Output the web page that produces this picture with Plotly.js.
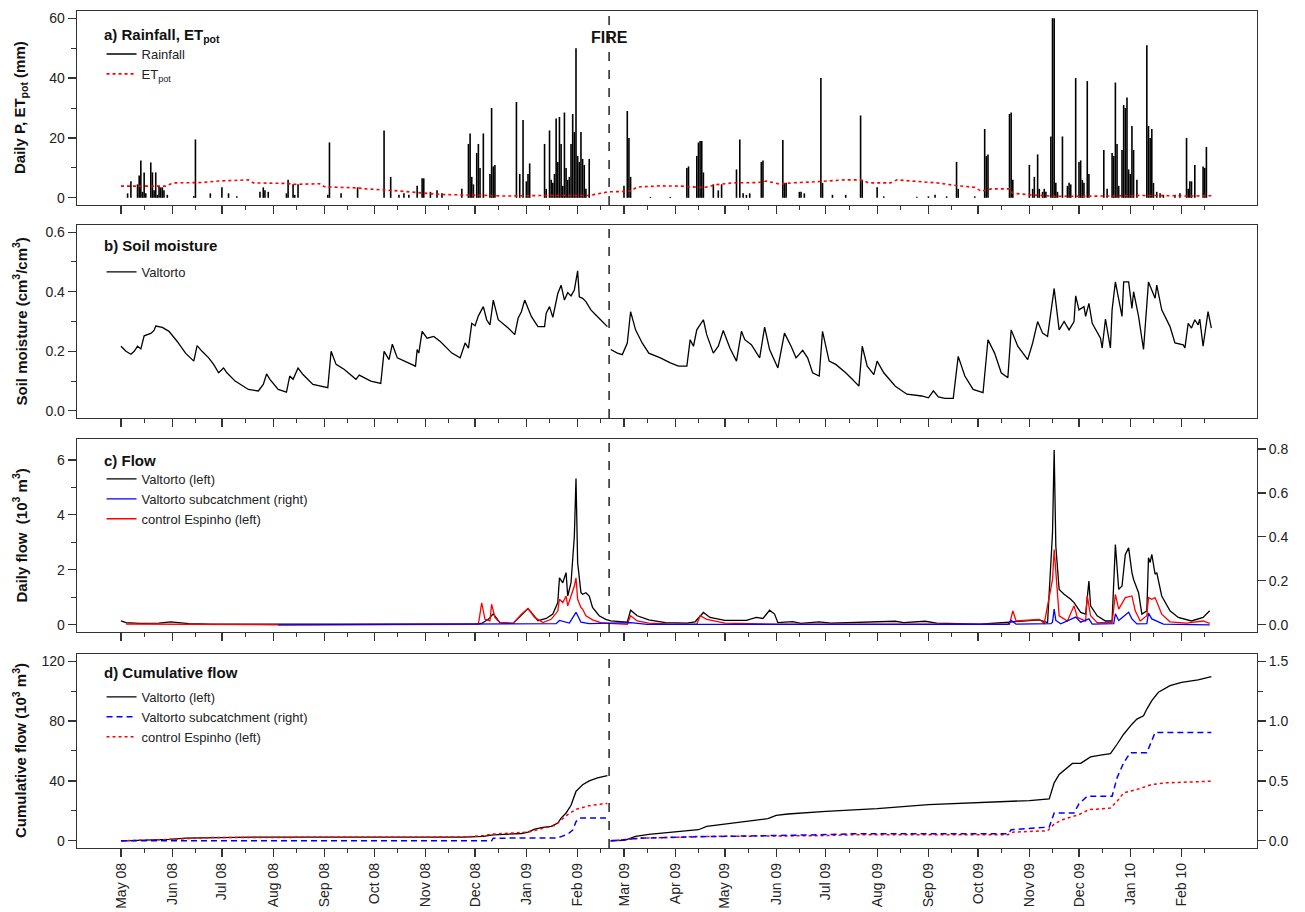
<!DOCTYPE html>
<html><head><meta charset="utf-8">
<script src="https://cdn.plot.ly/plotly-3.0.1.min.js"></script>
<style>html,body{margin:0;padding:0;background:#fff}#chart{width:1305px;height:912px}</style>
</head><body><div id="chart"></div>
<script>
const FIRE_DATE = '2009-02-20';

// x-axis ticks: month starts (labelled) and mid-month (minor)
const monthTicks = ['2008-05-01','2008-06-01','2008-07-01','2008-08-01','2008-09-01','2008-10-01','2008-11-01','2008-12-01','2009-01-01','2009-02-01','2009-03-01','2009-04-01','2009-05-01','2009-06-01','2009-07-01','2009-08-01','2009-09-01','2009-10-01','2009-11-01','2009-12-01','2010-01-01','2010-02-01'];
const midMonthTicks = ['2008-05-15','2008-06-15','2008-07-15','2008-08-15','2008-09-15','2008-10-15','2008-11-15','2008-12-15','2009-01-15','2009-02-15','2009-03-15','2009-04-15','2009-05-15','2009-06-15','2009-07-15','2009-08-15','2009-09-15','2009-10-15','2009-11-15','2009-12-15','2010-01-15','2010-02-15'];

// a) daily rainfall (mm)
const rainfall = [
['2008-05-05',1.5],['2008-05-07',5.5],['2008-05-11',4.5],['2008-05-12',7.5],['2008-05-13',12.5],['2008-05-14',2],['2008-05-15',8.5],['2008-05-16',1.5],['2008-05-19',11.8],['2008-05-20',8.5],['2008-05-21',2.5],['2008-05-22',8.5],['2008-05-23',1],['2008-05-24',4],['2008-05-25',3.5],['2008-05-26',3.5],['2008-05-27',2.5],['2008-05-29',1],
['2008-06-14',0.6],['2008-06-15',19.5],['2008-06-24',1.5],['2008-07-01',3.5],['2008-07-05',1.5],['2008-07-10',0.5],['2008-07-24',2],['2008-07-26',3.5],['2008-07-27',2.5],['2008-07-29',2],
['2008-08-09',1.5],['2008-08-10',6],['2008-08-13',4.5],['2008-08-14',1],['2008-08-16',4.5],['2008-09-03',1],['2008-09-04',18.5],['2008-09-11',1.5],['2008-09-21',3.5],
['2008-10-07',22.5],['2008-10-11',7],['2008-10-16',1],['2008-10-19',1.5],['2008-10-22',1],['2008-10-27',4],['2008-10-30',6.5],['2008-10-31',6.5],['2008-11-04',2],['2008-11-08',2.5],['2008-11-11',1.5],['2008-11-23',3],
['2008-11-27',18],['2008-11-28',21.5],['2008-11-29',7],['2008-11-30',4.5],['2008-12-02',15],['2008-12-03',18],['2008-12-04',10],['2008-12-06',21.5],['2008-12-10',8],['2008-12-11',30],['2008-12-12',10.5],['2008-12-13',11],
['2008-12-26',32],['2008-12-28',8],['2008-12-30',26],['2009-01-01',5.5],['2009-01-02',8],['2009-01-03',11.5],
['2009-01-12',18],['2009-01-13',3],['2009-01-15',22.5],['2009-01-16',6],['2009-01-17',5],['2009-01-18',8],['2009-01-19',26.5],['2009-01-20',12],['2009-01-21',27],['2009-01-22',18],['2009-01-23',4],['2009-01-24',28.5],['2009-01-25',10],['2009-01-26',6],['2009-01-27',7],['2009-01-28',18],['2009-01-29',28],['2009-01-30',22],['2009-01-31',50],['2009-02-01',14],['2009-02-02',12],['2009-02-03',22],['2009-02-04',13],['2009-02-05',11],['2009-02-06',3],['2009-02-08',13],
['2009-03-01',4],['2009-03-03',29],['2009-03-04',20],['2009-03-05',7],['2009-03-17',0.3],['2009-03-29',0.3],
['2009-04-08',10],['2009-04-09',10.5],['2009-04-14',14],['2009-04-15',18.5],['2009-04-16',19],['2009-04-17',19],['2009-04-18',8.5],['2009-04-24',4.5],['2009-04-27',2.5],['2009-04-29',4.5],
['2009-05-08',9.5],['2009-05-10',19.5],['2009-05-12',1.5],['2009-05-14',1],['2009-05-16',1.5],['2009-05-23',12],['2009-05-24',12.5],
['2009-06-05',19.3],['2009-06-06',5],['2009-06-07',5],['2009-06-15',2],['2009-06-16',2],['2009-06-18',1.5],['2009-06-28',40],['2009-06-29',5],
['2009-07-05',1],['2009-07-13',1],['2009-07-22',27.5],['2009-07-23',6],['2009-08-01',3.5],['2009-08-05',0.5],['2009-08-25',0.4],['2009-09-01',0.5],['2009-09-05',1],['2009-09-12',0.5],['2009-09-18',12],['2009-09-19',3],['2009-09-29',0.5],
['2009-10-05',23],['2009-10-06',14],['2009-10-07',14.5],['2009-10-20',28],['2009-10-21',28.5],['2009-10-22',6],
['2009-11-01',11],['2009-11-03',3],['2009-11-04',7],['2009-11-06',14.5],['2009-11-07',3],['2009-11-09',2],['2009-11-10',3],['2009-11-11',2],['2009-11-14',20.5],['2009-11-15',60],['2009-11-16',60],['2009-11-17',5],['2009-11-18',2],['2009-11-21',20.5],['2009-11-24',4],['2009-11-25',5],['2009-11-26',4.5],['2009-11-29',40],
['2009-12-01',12],['2009-12-02',12.5],['2009-12-03',6],['2009-12-04',5],['2009-12-06',39],['2009-12-07',8],['2009-12-16',16],['2009-12-18',3],['2009-12-21',15],['2009-12-22',14],['2009-12-23',38.5],['2009-12-24',18],['2009-12-25',4],['2009-12-27',16],['2009-12-28',31],['2009-12-29',30],['2009-12-30',33.5],['2009-12-31',9.5],
['2010-01-01',8],['2010-01-02',24],['2010-01-03',16],['2010-01-05',6],['2010-01-11',51],['2010-01-12',24],['2010-01-13',20],['2010-01-14',23],['2010-01-15',5],['2010-01-17',2],['2010-01-19',1.5],['2010-01-21',1],['2010-01-28',1],['2010-01-31',1.5],
['2010-02-04',20],['2010-02-05',3],['2010-02-06',5.5],['2010-02-07',5.5],['2010-02-09',11],['2010-02-14',10.5],['2010-02-15',10],['2010-02-16',17]
];

// a) potential evapotranspiration (mm/day)
const etpot = [
['2008-05-01',3.9],['2008-05-28',3.9],['2008-05-31',4.6],['2008-06-03',5],['2008-06-19',5.1],['2008-06-29',5.6],['2008-07-17',6],['2008-07-20',5],['2008-08-09',4.8],['2008-08-14',4.5],['2008-08-29',4.7],['2008-09-01',3.7],['2008-09-21',3.3],['2008-09-26',3],['2008-10-11',2.5],['2008-10-29',1.8],['2008-11-11',1.1],['2008-12-01',0.9],['2008-12-19',0.6],['2009-01-14',0.8],['2009-02-08',0.8],['2009-02-16',1.6],['2009-02-19',2],['2009-02-28',2.1],['2009-03-05',2.3],['2009-03-09',3.6],['2009-03-23',4],
['2009-04-05',3.9],['2009-04-18',3.4],['2009-04-26',4.4],['2009-05-06',5],['2009-05-21',5.1],['2009-05-26',5.6],['2009-06-03',4.6],['2009-06-11',5],['2009-06-26',5.4],['2009-07-12',6],['2009-07-22',6],['2009-07-27',5],['2009-08-09',5],['2009-08-13',6],['2009-08-22',5.6],['2009-09-06',5],['2009-09-19',4],['2009-09-29',3.5],['2009-10-03',2.2],['2009-10-09',3],['2009-10-20',3],['2009-10-22',1.5],['2009-11-02',1],['2009-11-17',0.5],['2009-12-17',0.6],['2010-01-12',0.8],['2010-02-07',0.6],['2010-02-19',0.7]
];

// b) soil moisture (cm3/cm3), before and after the fire
const soilPre = [
['2008-05-01',0.217],['2008-05-04',0.2],['2008-05-07',0.19],['2008-05-09',0.2],['2008-05-11',0.217],['2008-05-13',0.208],['2008-05-15',0.252],['2008-05-17',0.256],['2008-05-19',0.26],['2008-05-21',0.27],['2008-05-22',0.285],['2008-05-26',0.28],['2008-05-30',0.267],['2008-06-04',0.233],['2008-06-09',0.194],['2008-06-14',0.167],['2008-06-16',0.219],['2008-06-19',0.2],['2008-06-23',0.178],['2008-06-26',0.156],['2008-06-29',0.128],
['2008-07-02',0.144],['2008-07-04',0.128],['2008-07-09',0.1],['2008-07-17',0.072],['2008-07-23',0.067],['2008-07-26',0.089],['2008-07-28',0.124],['2008-07-30',0.106],['2008-08-04',0.072],['2008-08-09',0.063],['2008-08-11',0.117],['2008-08-13',0.106],['2008-08-16',0.144],['2008-08-19',0.122],['2008-08-25',0.089],
['2008-09-03',0.078],['2008-09-05',0.2],['2008-09-08',0.156],['2008-09-13',0.139],['2008-09-20',0.106],['2008-09-22',0.12],['2008-09-29',0.1],['2008-10-05',0.092],['2008-10-07',0.2],['2008-10-10',0.172],['2008-10-12',0.224],['2008-10-15',0.178],['2008-10-22',0.161],['2008-10-26',0.15],['2008-10-27',0.206],['2008-10-28',0.194],['2008-10-30',0.267],
['2008-11-02',0.244],['2008-11-06',0.25],['2008-11-10',0.233],['2008-11-17',0.194],['2008-11-22',0.178],['2008-11-25',0.228],['2008-11-27',0.211],['2008-11-29',0.294],['2008-12-01',0.286],['2008-12-03',0.319],['2008-12-06',0.35],['2008-12-08',0.306],['2008-12-10',0.289],['2008-12-12',0.372],['2008-12-15',0.306],['2008-12-21',0.278],['2008-12-25',0.256],['2008-12-27',0.311],['2008-12-29',0.333],['2008-12-31',0.372],
['2009-01-04',0.317],['2009-01-08',0.283],['2009-01-12',0.283],['2009-01-13',0.328],['2009-01-15',0.35],['2009-01-17',0.314],['2009-01-19',0.361],['2009-01-20',0.394],['2009-01-22',0.422],['2009-01-24',0.372],['2009-01-26',0.397],['2009-01-28',0.386],['2009-01-30',0.406],['2009-02-01',0.47],['2009-02-02',0.383],['2009-02-04',0.378],['2009-02-06',0.367],['2009-02-09',0.339],['2009-02-12',0.322],['2009-02-19',0.283]
];
const soilPost = [
['2009-02-21',0.206],['2009-02-25',0.194],['2009-02-28',0.189],['2009-03-03',0.228],['2009-03-05',0.333],['2009-03-08',0.272],['2009-03-12',0.228],['2009-03-16',0.194],['2009-03-23',0.178],['2009-03-29',0.161],['2009-04-03',0.15],['2009-04-08',0.15],['2009-04-10',0.239],['2009-04-12',0.217],['2009-04-14',0.272],['2009-04-18',0.306],['2009-04-20',0.256],['2009-04-24',0.194],['2009-04-27',0.217],['2009-04-30',0.27],
['2009-05-04',0.211],['2009-05-08',0.167],['2009-05-11',0.267],['2009-05-13',0.239],['2009-05-17',0.222],['2009-05-22',0.178],['2009-05-25',0.281],['2009-05-28',0.206],['2009-06-02',0.144],['2009-06-06',0.261],['2009-06-10',0.217],['2009-06-13',0.178],['2009-06-17',0.203],['2009-06-20',0.178],['2009-06-23',0.128],['2009-06-27',0.117],['2009-06-29',0.267],
['2009-07-03',0.167],['2009-07-07',0.156],['2009-07-13',0.128],['2009-07-17',0.106],['2009-07-21',0.083],['2009-07-23',0.217],['2009-07-26',0.15],['2009-07-30',0.122],['2009-08-01',0.167],['2009-08-05',0.128],['2009-08-12',0.083],['2009-08-19',0.056],['2009-08-28',0.05],['2009-09-01',0.044],['2009-09-04',0.067],['2009-09-07',0.047],['2009-09-11',0.042],['2009-09-16',0.042],['2009-09-19',0.183],['2009-09-23',0.117],['2009-09-28',0.072],
['2009-10-04',0.061],['2009-10-07',0.239],['2009-10-11',0.194],['2009-10-15',0.128],['2009-10-19',0.111],['2009-10-21',0.272],['2009-10-25',0.217],['2009-10-31',0.172],['2009-11-03',0.228],['2009-11-06',0.3],['2009-11-09',0.261],['2009-11-12',0.25],['2009-11-16',0.411],['2009-11-19',0.272],['2009-11-22',0.3],['2009-11-25',0.272],['2009-11-28',0.3],['2009-11-29',0.386],
['2009-12-01',0.339],['2009-12-04',0.35],['2009-12-05',0.317],['2009-12-07',0.361],['2009-12-09',0.294],['2009-12-14',0.244],['2009-12-15',0.211],['2009-12-17',0.308],['2009-12-20',0.211],['2009-12-21',0.339],['2009-12-23',0.433],['2009-12-27',0.317],['2009-12-28',0.433],['2009-12-31',0.433],
['2010-01-02',0.344],['2010-01-03',0.4],['2010-01-06',0.317],['2010-01-09',0.206],['2010-01-12',0.433],['2010-01-16',0.378],['2010-01-17',0.422],['2010-01-20',0.339],['2010-01-25',0.283],['2010-01-28',0.228],['2010-02-02',0.222],['2010-02-03',0.211],['2010-02-05',0.294],['2010-02-07',0.278],['2010-02-09',0.306],['2010-02-11',0.289],['2010-02-12',0.308],['2010-02-14',0.217],['2010-02-17',0.333],['2010-02-19',0.278]
];

// c) daily flow (10^3 m3)
const flowValtorto = [
['2008-05-01',0.14],['2008-05-04',0.08],['2008-05-12',0.05],['2008-05-24',0.06],['2008-05-31',0.11],['2008-06-04',0.08],['2008-06-11',0.04],['2008-06-24',0.025],['2008-08-09',0.02],['2008-12-02',0.03],['2008-12-05',0.05],['2008-12-09',0.2],['2008-12-12',0.4],['2008-12-16',0.08],['2008-12-24',0.05],['2008-12-29',0.33],
['2009-01-02',0.59],['2009-01-04',0.45],['2009-01-08',0.15],['2009-01-13',0.23],['2009-01-17',0.39],['2009-01-20',0.81],['2009-01-21',1.71],['2009-01-23',1.53],['2009-01-25',1.9],['2009-01-26',1.05],['2009-01-28',1.53],['2009-01-30',3.22],['2009-01-31',5.32],['2009-02-01',2.26],['2009-02-03',1.17],['2009-02-04',1.11],['2009-02-06',1.17],['2009-02-08',1.05],['2009-02-10',0.63],['2009-02-14',0.33],['2009-02-18',0.2],
['2009-02-21',0.14],['2009-02-28',0.1],['2009-03-03',0.1],['2009-03-05',0.53],['2009-03-09',0.33],['2009-03-16',0.18],['2009-03-23',0.12],['2009-03-26',0.08],['2009-04-08',0.06],['2009-04-13',0.11],['2009-04-18',0.45],['2009-04-22',0.27],['2009-05-01',0.16],['2009-05-14',0.16],['2009-05-20',0.27],['2009-05-24',0.23],['2009-05-28',0.53],['2009-05-31',0.39],['2009-06-02',0.08],['2009-06-11',0.12],['2009-06-16',0.05],['2009-06-27',0.11],['2009-07-04',0.06],['2009-08-12',0.13],['2009-08-17',0.08],['2009-08-30',0.13],['2009-09-06',0.06],['2009-09-21',0.05],['2009-10-02',0.02],['2009-10-20',0.1],
['2009-11-07',0.18],['2009-11-12',0.08],['2009-11-15',3.35],['2009-11-16',6.36],['2009-11-17',2.86],['2009-11-19',1.29],['2009-11-22',1.11],['2009-11-26',0.93],['2009-11-28',0.81],['2009-12-02',0.45],['2009-12-05',0.39],['2009-12-07',1.59],['2009-12-08',0.69],['2009-12-12',0.33],['2009-12-17',0.14],['2009-12-21',0.14],['2009-12-23',2.92],['2009-12-25',1.29],['2009-12-27',1.41],['2009-12-29',2.56],['2009-12-31',2.8],
['2010-01-02',1.9],['2010-01-03',1.65],['2010-01-06',1.17],['2010-01-08',0.39],['2010-01-11',0.51],['2010-01-12',2.44],['2010-01-13',2.27],['2010-01-14',2.56],['2010-01-16',1.84],['2010-01-17',1.9],['2010-01-20',1.05],['2010-01-25',0.51],['2010-01-30',0.27],['2010-02-07',0.14],['2010-02-14',0.27],['2010-02-18',0.51]
];
const flowSubcatchment = [
['2008-08-04',0],['2008-12-03',0.005],['2009-01-19',0.005],['2009-01-21',0.02],['2009-01-24',0.015],['2009-01-27',0.008],['2009-01-31',0.057],['2009-02-03',0.012],['2009-02-08',0.005],['2009-03-05',0.01],['2009-03-15',0.002],['2009-10-19',0.002],['2009-10-21',0.02],['2009-10-24',0.003],['2009-11-14',0.005],['2009-11-15',0.012],['2009-11-16',0.072],['2009-11-17',0.02],['2009-11-20',0.005],['2009-11-29',0.035],['2009-12-02',0.012],['2009-12-07',0.027],['2009-12-09',0.003],['2009-12-22',0.005],['2009-12-23',0.05],['2009-12-25',0.02],['2009-12-31',0.057],['2010-01-02',0.027],['2010-01-05',0.004],['2010-01-11',0.005],['2010-01-12',0.053],['2010-01-14',0.027],['2010-01-16',0.02],['2010-01-21',0.003],['2010-02-18',0]
];
const flowEspinho = [
['2008-05-04',0.03],['2008-06-15',0.02],['2008-08-04',0],['2008-12-03',0.02],['2008-12-05',0.8],['2008-12-07',0.2],['2008-12-10',0.14],['2008-12-11',0.75],['2008-12-13',0.27],['2008-12-16',0.08],['2008-12-24',0.05],['2008-12-29',0.39],['2009-01-02',0.6],['2009-01-06',0.27],['2009-01-11',0.08],['2009-01-16',0.2],['2009-01-20',0.5],['2009-01-21',0.93],['2009-01-23',0.81],['2009-01-25',1.05],['2009-01-26',0.69],['2009-01-28',1.05],['2009-01-30',1.41],['2009-01-31',1.71],['2009-02-01',0.93],['2009-02-03',0.63],['2009-02-04',0.57],['2009-02-06',0.33],['2009-02-10',0.18],['2009-02-15',0.08],['2009-02-20',0.05],
['2009-03-03',0.02],['2009-03-05',0.33],['2009-03-09',0.14],['2009-03-16',0.06],['2009-03-30',0.02],['2009-04-14',0.02],['2009-04-16',0.33],['2009-04-20',0.2],['2009-05-01',0.06],['2009-06-01',0.02],['2009-10-20',0.02],['2009-10-22',0.51],['2009-10-24',0.14],['2009-11-07',0.2],['2009-11-10',0.05],['2009-11-15',1.65],['2009-11-16',2.74],['2009-11-17',1.9],['2009-11-19',0.33],['2009-11-24',0.14],['2009-11-28',0.69],['2009-11-30',0.27],['2009-12-05',0.14],['2009-12-06',1.05],['2009-12-08',0.33],['2009-12-12',0.08],['2009-12-21',0.08],['2009-12-23',1.11],['2009-12-25',0.57],['2009-12-29',0.99],
['2010-01-02',1.05],['2010-01-04',0.51],['2010-01-07',0.14],['2010-01-11',0.33],['2010-01-12',0.99],['2010-01-14',0.93],['2010-01-16',0.99],['2010-01-20',0.39],['2010-01-25',0.11],['2010-02-04',0.06],['2010-02-14',0.14],['2010-02-18',0.05]
];

// d) cumulative flow (10^3 m3), restarted at the fire
const cumValtortoPre = [['2008-05-01',0],['2008-05-12',0.2],['2008-05-24',0.45],['2008-05-30',0.9],['2008-06-09',1.8],['2008-06-24',2.2],['2008-07-20',2.5],['2008-11-24',2.5],['2008-12-06',2.9],['2008-12-12',4.0],['2008-12-19',4.5],['2008-12-29',4.9],['2009-01-02',5.8],['2009-01-06',7.8],['2009-01-11',9.0],['2009-01-16',9.6],['2009-01-20',11.9],['2009-01-22',15.2],['2009-01-25',18.6],['2009-01-28',23.7],['2009-01-31',33],['2009-02-04',37.5],['2009-02-08',40],['2009-02-13',42],['2009-02-19',43.5]];
const cumValtortoPost = [['2009-02-21',0],['2009-03-01',0.3],['2009-03-03',1.0],['2009-03-08',3.0],['2009-03-16',4.3],['2009-03-23',5.0],['2009-04-01',5.8],['2009-04-15',7.4],['2009-04-20',9.6],['2009-05-01',11.2],['2009-05-19',13.4],['2009-05-27',14.8],['2009-06-01',17],['2009-06-08',17.9],['2009-07-01',19.7],['2009-08-01',21.5],['2009-09-01',24.2],['2009-10-01',25.3],['2009-11-01',26.9],['2009-11-13',28],['2009-11-16',38.7],['2009-11-19',44.3],['2009-11-23',47.7],['2009-11-27',51.7],['2009-12-02',51.7],['2009-12-05',53.7],['2009-12-08',56],['2009-12-14',57.3],['2009-12-20',58.2],['2009-12-24',64.5],['2009-12-28',71.2],['2010-01-02',77.9],['2010-01-05',81.3],['2010-01-09',83.5],['2010-01-11',88],['2010-01-14',93.6],['2010-01-18',99.2],['2010-01-25',103.6],['2010-02-01',105.9],['2010-02-11',107.5],['2010-02-19',109.7]];
const cumSubPre = [['2008-05-01',0],['2008-12-11',0],['2008-12-12',0.022],['2009-01-20',0.024],['2009-01-22',0.035],['2009-01-26',0.055],['2009-01-29',0.09],['2009-01-31',0.16],['2009-02-02',0.19],['2009-02-19',0.19]];
const cumSubPost = [['2009-02-21',0],['2009-03-05',0.012],['2009-03-11',0.022],['2009-04-15',0.034],['2009-04-26',0.036],['2009-06-27',0.05],['2009-07-17',0.059],['2009-10-19',0.059],['2009-10-21',0.092],['2009-11-13',0.115],['2009-11-16',0.232],['2009-11-28',0.232],['2009-12-01',0.31],['2009-12-06',0.372],['2009-12-21',0.372],['2009-12-24',0.526],['2009-12-28',0.652],['2010-01-01',0.736],['2010-01-11',0.736],['2010-01-16',0.904],['2010-02-19',0.904]];
const cumEspinhoPre = [['2008-05-01',0],['2008-05-30',0.9],['2008-06-24',2.2],['2008-11-24',2.5],['2008-12-06',3.5],['2008-12-12',4.5],['2009-01-02',5.8],['2009-01-11',8.5],['2009-01-19',10.5],['2009-01-21',13],['2009-01-26',17.5],['2009-01-31',21],['2009-02-08',23.5],['2009-02-19',25]];
const cumEspinhoPost = [['2009-02-21',0],['2009-03-05',1.0],['2009-03-11',1.8],['2009-04-05',2.5],['2009-04-15',2.9],['2009-06-27',3.4],['2009-07-17',4.0],['2009-10-19',4.0],['2009-10-22',5.8],['2009-11-12',6.7],['2009-11-16',11.2],['2009-11-21',14.1],['2009-12-01',17.5],['2009-12-07',20.8],['2009-12-20',21.9],['2009-12-24',26.4],['2009-12-28',32],['2010-01-05',34.3],['2010-01-14',37.6],['2010-01-22',38.7],['2010-02-19',39.8]];

// ---------- helpers ----------
const xs = a => a.map(p => p[0]);
const ys = a => a.map(p => p[1]);
const withBreak = (pre, post) => ({x: [...xs(pre), FIRE_DATE, ...xs(post)], y: [...ys(pre), null, ...ys(post)]});
const spikes = a => ({x: a.flatMap(p => [p[0], p[0], null]), y: a.flatMap(p => [0, p[1], null])});

const FONT = 'Liberation Sans, Arial, sans-serif';
const AX = '#333';
const rain = spikes(rainfall);
const soil = withBreak(soilPre, soilPost);
const cV = withBreak(cumValtortoPre, cumValtortoPost);
const cS = withBreak(cumSubPre, cumSubPost);
const cE = withBreak(cumEspinhoPre, cumEspinhoPost);

const traces = [
  {x: rain.x, y: rain.y, type: 'scatter', mode: 'lines', name: 'Rainfall', line: {color: '#000', width: 1.6}, xaxis: 'x', yaxis: 'y', legend: 'legend', connectgaps: false},
  {x: xs(etpot), y: ys(etpot), type: 'scatter', mode: 'lines', name: 'ET<sub>pot</sub>', line: {color: '#ff0000', width: 1.6, dash: 'dot'}, xaxis: 'x', yaxis: 'y', legend: 'legend'},
  {x: soil.x, y: soil.y, type: 'scatter', mode: 'lines', name: 'Valtorto', line: {color: '#000', width: 1.3}, xaxis: 'x2', yaxis: 'y2', legend: 'legend2', connectgaps: false},
  {x: xs(flowValtorto), y: ys(flowValtorto), type: 'scatter', mode: 'lines', name: 'Valtorto (left)', line: {color: '#000', width: 1.3}, xaxis: 'x3', yaxis: 'y3', legend: 'legend3', legendrank: 1},
  {x: xs(flowEspinho), y: ys(flowEspinho), type: 'scatter', mode: 'lines', name: 'control Espinho (left)', line: {color: '#ff0000', width: 1.3}, xaxis: 'x3', yaxis: 'y3', legend: 'legend3', legendrank: 3},
  {x: xs(flowSubcatchment), y: ys(flowSubcatchment), type: 'scatter', mode: 'lines', name: 'Valtorto subcatchment (right)', line: {color: '#0000ff', width: 1.3}, xaxis: 'x3', yaxis: 'y4', legend: 'legend3', legendrank: 2},
  {x: cV.x, y: cV.y, type: 'scatter', mode: 'lines', name: 'Valtorto (left)', line: {color: '#000', width: 1.3}, xaxis: 'x4', yaxis: 'y5', legend: 'legend4', legendrank: 1, connectgaps: false},
  {x: cE.x, y: cE.y, type: 'scatter', mode: 'lines', name: 'control Espinho (left)', line: {color: '#ff0000', width: 1.5, dash: 'dot'}, xaxis: 'x4', yaxis: 'y5', legend: 'legend4', legendrank: 3, connectgaps: false},
  {x: cS.x, y: cS.y, type: 'scatter', mode: 'lines', name: 'Valtorto subcatchment (right)', line: {color: '#0000ff', width: 1.5, dash: '6px,4px'}, xaxis: 'x4', yaxis: 'y6', legend: 'legend4', legendrank: 2, connectgaps: false}
];

const xBase = (showLabels, anchor) => ({
  type: 'date', anchor: anchor, range: ['2008-04-04 10:00', '2010-03-18 14:00'],
  showline: true, mirror: true, linecolor: AX, linewidth: 1.3, showgrid: false, zeroline: false,
  ticks: 'outside', ticklen: 8, tickwidth: 1.2, tickcolor: AX,
  tickmode: 'array', tickvals: monthTicks, tickformat: '%b %y', tickangle: -90,
  showticklabels: showLabels, tickfont: {size: 14, color: '#222'},
  minor: {tickmode: 'array', tickvals: midMonthTicks, ticks: 'outside', ticklen: 4, tickwidth: 1, tickcolor: AX, showgrid: false}
});
const yBase = (dom, rng, dtick, minorDtick, fmt) => ({
  domain: dom, range: rng, showline: true, mirror: true, linecolor: AX, linewidth: 1.3,
  showgrid: false, zeroline: false, ticks: 'outside', ticklen: 8, tickwidth: 1.2, tickcolor: AX,
  tick0: 0, dtick: dtick, tickformat: fmt, tickfont: {size: 14, color: '#222'},
  minor: {tick0: 0, dtick: minorDtick, ticks: 'outside', ticklen: 5, tickwidth: 1, tickcolor: AX}
});
const legendBase = (y) => ({x: 0.0208, y: y, xanchor: 'left', yanchor: 'top', xref: 'paper', yref: 'paper',
  bgcolor: 'rgba(0,0,0,0)', font: {size: 13, family: FONT, color: '#222'}, tracegroupgap: 0, itemwidth: 30, traceorder: 'normal'});

const dA = [0.7682, 1], dB = [0.5137, 0.7443], dC = [0.2581, 0.4886], dD = [0, 0.2318];

const fireLine = (yref) => ({type: 'line', xref: 'x', x0: FIRE_DATE, x1: FIRE_DATE, yref: yref, y0: 0, y1: 1, line: {color: '#000', width: 1.3, dash: 'dash'}});
const panelTitle = (txt, xref, yref, y) => ({text: '<b>' + txt + '</b>', xref: xref, yref: yref, x: 0.0212, y: y, xanchor: 'left', yanchor: 'middle', showarrow: false, font: {size: 15, color: '#111'}});
const yTitle = (txt, yref) => ({text: '<b>' + txt + '</b>', xref: 'paper', yref: yref, x: -0.0483, y: 0.5, xanchor: 'center', yanchor: 'middle', textangle: -90, showarrow: false, font: {size: 15, color: '#111'}});

const layout = {
  width: 1305, height: 912, paper_bgcolor: '#fff', plot_bgcolor: '#fff',
  margin: {l: 77, r: 48, t: 11, b: 64},
  font: {family: FONT, size: 14, color: '#222'},
  showlegend: true, hovermode: false,
  xaxis: Object.assign(xBase(false, 'y'), {matches: 'x4'}),
  xaxis2: Object.assign(xBase(false, 'y2'), {matches: 'x4'}),
  xaxis3: Object.assign(xBase(false, 'y3'), {matches: 'x4'}),
  xaxis4: xBase(true, 'y5'),
  yaxis: Object.assign(yBase(dA, [-2.4, 62.4], 20, 10, 'd'), {anchor: 'x'}),
  yaxis2: Object.assign(yBase(dB, [-0.024, 0.624], 0.2, 0.1, '.1f'), {anchor: 'x2'}),
  yaxis3: Object.assign(yBase(dC, [-0.26, 6.76], 2, 1, 'd'), {anchor: 'x3'}),
  yaxis4: {domain: dC, anchor: 'x3', overlaying: 'y3', side: 'right', range: [-0.0325, 0.845], showline: false, showgrid: false, zeroline: false,
    ticks: 'outside', ticklen: 8, tickwidth: 1.2, tickcolor: AX, tick0: 0, dtick: 0.2, tickformat: '.1f', tickfont: {size: 14, color: '#222'}},
  yaxis5: Object.assign(yBase(dD, [-4.8, 124.8], 40, 20, 'd'), {anchor: 'x4'}),
  yaxis6: {domain: dD, anchor: 'x4', overlaying: 'y5', side: 'right', range: [-0.06, 1.56], showline: false, showgrid: false, zeroline: false,
    ticks: 'outside', ticklen: 8, tickwidth: 1.2, tickcolor: AX, tick0: 0, dtick: 0.5, tickformat: '.1f', tickfont: {size: 14, color: '#222'},
    minor: {tick0: 0, dtick: 0.25, ticks: 'outside', ticklen: 5, tickwidth: 1, tickcolor: AX}},
  legend: legendBase(0.9665),
  legend2: legendBase(0.7061),
  legend3: legendBase(0.4588),
  legend4: legendBase(0.1983),
  shapes: [fireLine('y domain'), fireLine('y2 domain'), fireLine('y3 domain'), fireLine('y5 domain')],
  annotations: [
    panelTitle('a) Rainfall, ET<sub>pot</sub>', 'x domain', 'y domain', 0.876),
    panelTitle('b) Soil moisture', 'x2 domain', 'y2 domain', 0.896),
    panelTitle('c) Flow', 'x3 domain', 'y3 domain', 0.891),
    panelTitle('d) Cumulative flow', 'x4 domain', 'y5 domain', 0.902),
    yTitle('Daily P, ET<sub>pot</sub> (mm)', 'y domain'),
    yTitle('Soil moisture (cm<sup>3</sup>/cm<sup>3</sup>)', 'y2 domain'),
    yTitle('Daily flow  (10<sup>3</sup> m<sup>3</sup>)', 'y3 domain'),
    yTitle('Cumulative flow (10<sup>3</sup> m<sup>3</sup>)', 'y5 domain'),
    {text: '<b>FIRE</b>', xref: 'x', yref: 'y domain', x: FIRE_DATE, y: 0.861, xanchor: 'center', yanchor: 'middle', showarrow: false, font: {size: 16, color: '#111'}}
  ]
};

Plotly.newPlot('chart', traces, layout, {staticPlot: true, displayModeBar: false});
</script>
</body></html>
